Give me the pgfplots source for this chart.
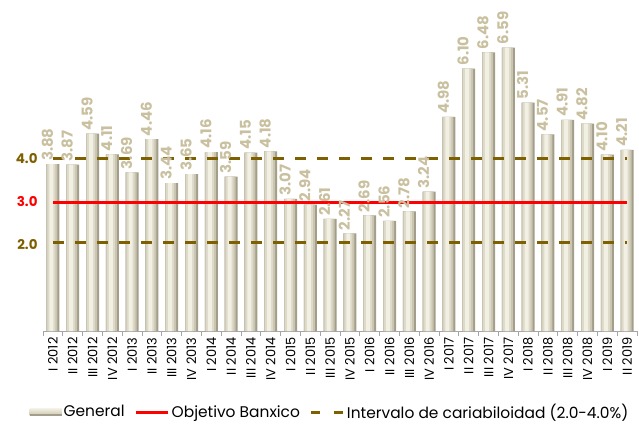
\documentclass[border=0pt]{standalone}
\usepackage{pgfplots}
\usepackage{pgfplotstable}
\pgfplotsset{compat=1.18}
\usepackage{fontspec}
\setmainfont{Poppins}
\definecolor{gold}{HTML}{7F6000}
\definecolor{lbl}{HTML}{C9C0A0}
\definecolor{barA}{HTML}{A29E8A}
\definecolor{barB}{HTML}{C9C5B1}
\definecolor{barC}{HTML}{DEDACA}
\definecolor{barD}{HTML}{F2EFE3}
\pgfplotstableread{
x y
0 3.88
1 3.87
2 4.59
3 4.11
4 3.69
5 4.46
6 3.44
7 3.65
8 4.16
9 3.59
10 4.15
11 4.18
12 3.07
13 2.94
14 2.61
15 2.27
16 2.69
17 2.56
18 2.78
19 3.24
20 4.98
21 6.10
22 6.48
23 6.59
24 5.31
25 4.57
26 4.91
27 4.82
28 4.10
29 4.21
}\data
\begin{document}
\begin{tikzpicture}
\begin{axis}[
  x=19.8bp, y=43bp,
  xmin=-0.5, xmax=29.5, ymin=0, ymax=7.6,
  clip=false,
  separate axis lines,
  axis x line*=bottom, axis y line*=left,
  y axis line style={draw=none},
  x axis line style={draw=gray!70, line width=0.8bp},
  xtick={0,...,29},
  xticklabels={I 2012,II 2012,III 2012,IV 2012,I 2013,II 2013,III 2013,IV 2013,I 2014,II 2014,III 2014,IV 2014,I 2015,II 2015,III 2015,IV 2015,I 2016,II 2016,III 2016,IV 2016,I 2017,II 2017,III 2017,IV 2017,I 2018,II 2018,III 2018,IV 2018,I 2019,II 2019},
  xticklabel style={rotate=90, anchor=east, font=\fontsize{13}{13}\selectfont, inner sep=2bp},
  major x tick style={draw=none},
  minor xtick={-0.5,0.5,...,29.5},
  minor x tick style={draw=gray!70, line width=0.8bp},
  tick align=outside, minor tick length=5bp,
  ytick={2,3,4},
  yticklabels={\textbf{2.0},\textcolor{red}{\textbf{3.0}},\textbf{4.0}},
  yticklabel style={gold, font=\fontsize{13.5}{14}\selectfont, inner sep=1bp},
  ytick style={draw=none},
  /pgf/number format/.cd, fixed, fixed zerofill, precision=2, assume math mode=true,
  /pgfplots/.cd,
  legend columns=3,
  legend style={draw=none, at={(0.5,0)}, anchor=center, xshift=-10bp, yshift=-81bp,
    font=\fontsize{15.5}{16}\selectfont, inner sep=0pt,
    /tikz/every even column/.append style={column sep=8bp}},
]
\addplot[ybar, bar width=13bp, bar shift=0bp, draw=none, fill=barA,
  legend image code/.code={\fill[top color=barD, bottom color=barB] (0bp,-3.5bp) rectangle (32bp,3.5bp); \fill[barA] (0bp,-3.5bp) rectangle (32bp,-2bp);}]
  table[x=x,y=y] {\data};
\addlegendentry{General}
\addplot[ybar, bar width=11bp, bar shift=-1bp, draw=none, fill=barB, forget plot] table[x=x,y=y] {\data};
\addplot[ybar, bar width=8bp, bar shift=-1.5bp, draw=none, fill=barC, forget plot] table[x=x,y=y] {\data};
\addplot[ybar, bar width=4bp, bar shift=-1.5bp, draw=none, fill=barD, forget plot,
  nodes near coords,
  nodes near coords style={rotate=90, anchor=west, text=lbl, font=\bfseries\fontsize{15}{15}\selectfont, inner sep=2bp, xshift=1bp, yshift=5.5bp}]
  table[x=x,y=y] {\data};
\addplot[sharp plot, red, line width=3bp, legend image code/.code={\draw[red, line width=3bp] (0bp,0bp) -- (32bp,0bp);}] coordinates {(0,3) (29,3)};
\addlegendentry{Objetivo Banxico}
\addplot[sharp plot, gold, line width=3bp, dash pattern=on 11bp off 11bp, legend image code/.code={\draw[gold, line width=3bp, dash pattern=on 9bp off 14bp] (0bp,0bp) -- (32bp,0bp);}] coordinates {(0,4) (29,4)};
\addlegendentry{Intervalo de cariabiloidad (2.0-4.0\%)}
\addplot[sharp plot, gold, line width=3bp, dash pattern=on 11bp off 11bp, forget plot] coordinates {(0,2.05) (29,2.05)};
\coordinate (O) at (axis cs:-0.5,0);
\end{axis}
\pgfresetboundingbox
\path (O) ++(-43bp,-94bp) rectangle ++(639bp,425bp);
\end{tikzpicture}
\end{document}
